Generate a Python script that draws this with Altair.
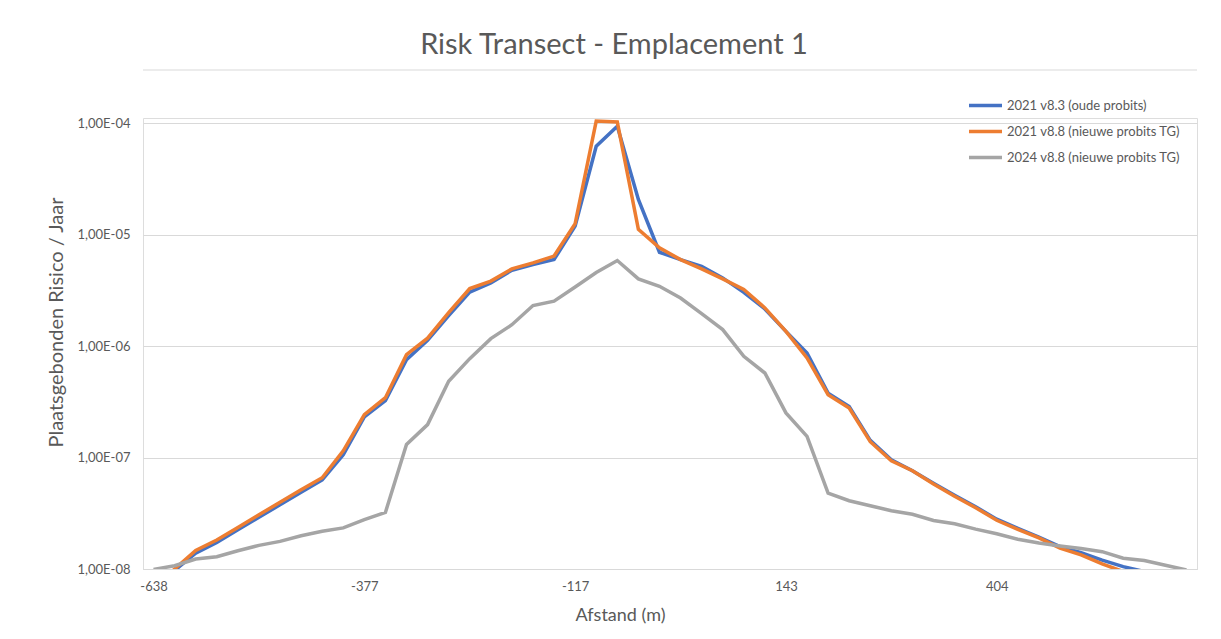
import math
import altair as alt
import pandas as pd

# Category axis: distance (m) along the transect
DIST = [-638, -612, -586, -560, -534, -508, -482, -456, -430, -404,
        -377, -351, -325, -299, -273, -247, -221, -195, -169, -143,
        -117, -91, -65, -39, -13, 13, 39, 65, 91, 117,
        143, 169, 195, 221, 247, 273, 299, 325, 351, 377,
        404, 430, 456, 482, 508, 534, 560, 586, 612, 638]

SERIES = ["2021 v8.3 (oude probits)", "2021 v8.8 (nieuwe probits TG)", "2024 v8.8 (nieuwe probits TG)"]
COLORS = ["#4472C4", "#ED7D31", "#A5A5A5"]

RISK_2021_V83 = [6.0e-9, 9.7e-9, 1.39e-8, 1.73e-8, 2.25e-8, 2.92e-8, 3.77e-8, 4.89e-8, 6.31e-8, 1.06e-7,
                 2.32e-7, 3.25e-7, 7.58e-7, 1.13e-6, 1.88e-6, 3.06e-6, 3.71e-6, 4.81e-6, 5.41e-6, 6.00e-6,
                 1.20e-5, 6.25e-5, 9.46e-5, 2.08e-5, 6.98e-6, 6.00e-6, 5.22e-6, 4.11e-6, 3.05e-6, 2.16e-6,
                 1.36e-6, 8.71e-7, 3.79e-7, 2.88e-7, 1.43e-7, 9.57e-8, 7.62e-8, 5.89e-8, 4.59e-8, 3.62e-8,
                 2.80e-8, 2.32e-8, 1.93e-8, 1.59e-8, 1.40e-8, 1.20e-8, 1.05e-8, 9.5e-9, 8.3e-9, 7.2e-9]

RISK_2021_V88 = [6.5e-9, 1.0e-8, 1.47e-8, 1.82e-8, 2.36e-8, 3.07e-8, 3.97e-8, 5.15e-8, 6.60e-8, 1.15e-7,
                 2.43e-7, 3.45e-7, 8.41e-7, 1.18e-6, 2.00e-6, 3.30e-6, 3.85e-6, 4.95e-6, 5.60e-6, 6.45e-6,
                 1.26e-5, 1.05e-4, 1.03e-4, 1.12e-5, 7.64e-6, 6.00e-6, 4.95e-6, 4.03e-6, 3.23e-6, 2.21e-6,
                 1.36e-6, 7.85e-7, 3.67e-7, 2.79e-7, 1.39e-7, 9.37e-8, 7.62e-8, 5.79e-8, 4.50e-8, 3.55e-8,
                 2.74e-8, 2.27e-8, 1.90e-8, 1.54e-8, 1.34e-8, 1.11e-8, 9.5e-9, 8.0e-9, 7.0e-9, 6.0e-9]

RISK_2024_V88 = [9.9e-9, 1.07e-8, 1.23e-8, 1.29e-8, 1.46e-8, 1.63e-8, 1.77e-8, 1.99e-8, 2.18e-8, 2.34e-8,
                 2.77e-8, 3.22e-8, 1.31e-7, 1.98e-7, 4.84e-7, 7.74e-7, 1.17e-6, 1.56e-6, 2.32e-6, 2.54e-6,
                 3.40e-6, 4.59e-6, 5.88e-6, 4.02e-6, 3.45e-6, 2.71e-6, 1.96e-6, 1.41e-6, 8.11e-7, 5.75e-7,
                 2.52e-7, 1.55e-7, 4.79e-8, 4.10e-8, 3.70e-8, 3.33e-8, 3.10e-8, 2.73e-8, 2.55e-8, 2.28e-8,
                 2.07e-8, 1.85e-8, 1.71e-8, 1.61e-8, 1.53e-8, 1.43e-8, 1.25e-8, 1.19e-8, 1.08e-8, 9.8e-9]

X_TICKS = ["-638", "-377", "-117", "143", "404"]
Y_TICKS = [1e-8, 1e-7, 1e-6, 1e-5, 1e-4]
Y_LABELS = ["1,00E-08", "1,00E-07", "1,00E-06", "1,00E-05", "1,00E-04"]

rows = []
for name, vals in zip(SERIES, [RISK_2021_V83, RISK_2021_V88, RISK_2024_V88]):
    for d, v in zip(DIST, vals):
        rows.append({"afstand": str(d), "risico": v, "serie": name})
df = pd.DataFrame(rows)

label_expr = "''"
for t, lab in zip(Y_TICKS, Y_LABELS):
    label_expr = f"abs(log(datum.value)/LN10 - ({math.log10(t):.0f})) < 0.01 ? '{lab}' : {label_expr}"

FONT = "Lato"
TXT = "#595959"
GRID = "#D9D9D9"
W, H = 1054, 451

lines = alt.Chart(df).mark_line(strokeWidth=3.5, clip=True).encode(
    x=alt.X("afstand:O", sort=[str(d) for d in DIST],
            scale=alt.Scale(type="point", padding=0.5),
            axis=alt.Axis(values=X_TICKS, labelAngle=0, ticks=False, tickSize=0, grid=False,
                          labelPadding=11, labelFontSize=13, labelColor=TXT, labelFont=FONT,
                          domainColor=GRID, domainWidth=1,
                          title="Afstand (m)", titleFontSize=18, titleFont=FONT, titleColor=TXT,
                          titleFontWeight="normal", titleX=477, titleY=46, titleBaseline="middle",
                          titleAlign="center")),
    y=alt.Y("risico:Q",
            scale=alt.Scale(type="log", domain=[1e-8, 1.12e-4]),
            axis=alt.Axis(values=Y_TICKS, labelExpr=label_expr, ticks=False, tickSize=0, domain=False,
                          grid=True, gridColor=GRID, gridWidth=1,
                          labelPadding=13, labelFontSize=13, labelColor=TXT, labelFont=FONT,
                          title="Plaatsgebonden Risico / Jaar", titleFontSize=20, titleFont=FONT,
                          titleColor=TXT, titleFontWeight="normal", titleX=-87, titleY=204,
                          titleBaseline="middle", titleAlign="center")),
    color=alt.Color("serie:N", scale=alt.Scale(domain=SERIES, range=COLORS),
                    legend=alt.Legend(title=None, orient="none", legendX=824, legendY=-31,
                                      symbolType="stroke", symbolSize=1089, symbolStrokeWidth=3.5,
                                      labelFontSize=13, labelColor=TXT, labelFont=FONT, labelLimit=400,
                                      rowPadding=-6, labelOffset=3, padding=0)),
)

# thin separator line under the title, as in the reference
sep = alt.Chart(pd.DataFrame({"k": [0]})).mark_rule(color=GRID, strokeWidth=1).encode(
    x=alt.value(0), x2=alt.value(W), y=alt.value(-48)
)

chart = alt.layer(sep, lines).properties(
    width=W, height=H,
    title=alt.TitleParams("Risk Transect - Emplacement 1", fontSize=29, font=FONT, color=TXT,
                          fontWeight="normal", anchor="middle", dx=-56, dy=28, offset=15,
                          baseline="alphabetic", frame="group"),
    padding={"left": 135, "top": 110, "right": 15, "bottom": 55},
    autosize=alt.AutoSizeParams(type="none"),
).configure_view(stroke=None).configure(background="white")

chart.save("out.html", embed_options={"renderer": "svg", "actions": False})
